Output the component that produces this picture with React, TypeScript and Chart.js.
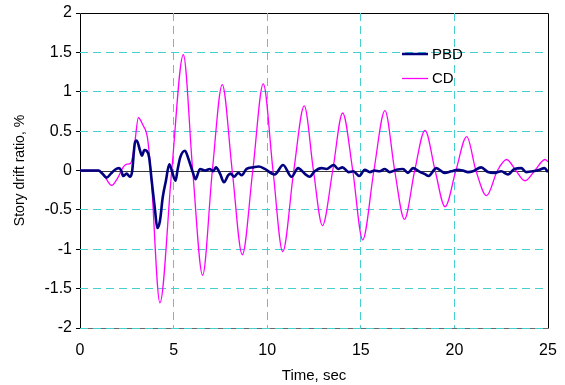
import { useEffect, useRef } from 'react';
import { Chart, registerables } from 'chart.js';

Chart.register(...registerables);

// ---- data ----
const seriesLabels = ['PBD', 'CD'];

const pbdTime = [0, 0.98, 1.2, 1.42, 1.65, 1.87, 2.08, 2.2, 2.31, 2.49, 2.67, 2.78, 2.94, 3.03, 3.21, 3.31, 3.44, 3.56, 3.69, 3.83, 4.01, 4.13, 4.27, 4.42, 4.59, 4.77, 4.9, 5.1, 5.22, 5.36, 5.61, 5.79, 6.05, 6.17, 6.41, 6.68, 6.94, 7.12, 7.26, 7.48, 7.69, 7.92, 8.05, 8.23, 8.46, 8.64, 8.9, 9.26, 9.55, 9.87, 10.4, 10.85, 11.3, 11.65, 12.0, 12.27, 12.54, 12.9, 13.17, 13.55, 13.79, 14.02, 14.35, 14.6, 14.92, 15.21, 15.48, 15.74, 16.01, 16.28, 16.54, 16.9, 17.25, 17.52, 17.79, 18.11, 18.45, 18.62, 19.03, 19.48, 19.83, 20.19, 20.45, 20.72, 20.99, 21.43, 21.79, 22.15, 22.5, 22.86, 23.21, 23.57, 23.84, 24.19, 24.55, 24.81, 25];
const pbdValue = [0, 0, -0.04, -0.09, -0.04, 0.01, 0.03, 0.0, -0.07, -0.04, -0.08, -0.02, 0.36, 0.38, 0.25, 0.19, 0.26, 0.25, 0.17, -0.13, -0.51, -0.73, -0.64, -0.34, -0.13, 0.08, 0.0, -0.13, 0.02, 0.17, 0.25, 0.15, -0.04, -0.11, 0.02, 0.0, 0.02, -0.01, 0.04, -0.04, -0.15, -0.06, -0.04, -0.08, -0.03, -0.06, 0.02, 0.04, 0.05, 0.02, -0.05, 0.07, -0.08, 0.03, -0.04, -0.08, -0.01, 0.03, 0.02, 0.07, 0.02, 0.04, -0.02, -0.01, -0.07, 0.01, -0.02, 0.0, -0.01, 0.02, -0.02, 0.01, 0.02, -0.03, 0.03, -0.01, -0.05, -0.07, 0.03, -0.03, -0.01, 0.01, 0.0, -0.02, -0.01, 0.04, -0.02, -0.03, -0.01, -0.05, 0.02, 0.03, -0.02, -0.01, 0.01, 0.03, -0.02];

const cdTime = [0, 1.0, 1.3, 1.69, 2.0, 2.3, 2.5, 2.7, 2.9, 3.12, 3.35, 3.6, 3.78, 4.27, 4.9, 5.52, 6.02, 6.55, 7.07, 7.6, 8.13, 8.67, 9.23, 9.79, 10.31, 10.83, 11.42, 11.98, 12.47, 12.95, 13.5, 14.03, 14.57, 15.1, 15.7, 16.29, 16.81, 17.33, 17.88, 18.43, 18.97, 19.5, 20.08, 20.66, 21.15, 21.72, 22.3, 22.79, 23.28, 23.77, 24.3, 24.84, 25];
const cdValue = [0, 0, -0.07, -0.19, -0.1, 0.04, 0.08, 0.09, 0.3, 0.67, 0.58, 0.42, 0, -1.68, 0, 1.47, 0, -1.33, 0, 1.09, 0, -1.07, 0, 1.1, 0, -1.03, 0, 0.82, 0, -0.7, 0, 0.73, 0, -0.88, 0, 0.76, 0, -0.62, 0, 0.51, 0, -0.46, 0, 0.43, 0, -0.32, 0, 0.14, 0, -0.13, 0, 0.14, 0.11];

const xTickValues = [0, 5, 10, 15, 20, 25];
const yTickValues = [-2, -1.5, -1, -0.5, 0, 0.5, 1, 1.5, 2];

const FONT = "'Liberation Sans', Arial, sans-serif";
const GRID_CYAN = '#45CFCF';

const framePlugin = {
  id: 'frame',
  beforeDraw(chart: any) {
    const { ctx, chartArea: a } = chart;
    ctx.save();
    ctx.lineWidth = 1;
    ctx.strokeStyle = '#000';
    ctx.beginPath();
    ctx.moveTo(Math.round(a.left) + 0.5, Math.round(a.bottom) + 0.5);
    ctx.lineTo(Math.round(a.left) + 0.5, Math.round(a.top) + 0.5);
    ctx.lineTo(Math.round(a.right) + 0.5, Math.round(a.top) + 0.5);
    ctx.lineTo(Math.round(a.right) + 0.5, Math.round(a.bottom) + 0.5);
    ctx.stroke();
    ctx.strokeStyle = '#6a6a6a';
    ctx.beginPath();
    ctx.moveTo(Math.round(a.left) + 0.5, Math.round(a.bottom) + 0.5);
    ctx.lineTo(Math.round(a.right) + 0.5, Math.round(a.bottom) + 0.5);
    ctx.stroke();
    ctx.restore();
  },
  beforeDatasetsDraw(chart: any) {
    const { ctx, chartArea: a, scales } = chart;
    const y0 = Math.round(scales.y.getPixelForValue(0)) + 0.5;
    ctx.save();
    ctx.strokeStyle = '#3a3a3a';
    ctx.lineWidth = 1;
    ctx.beginPath();
    ctx.moveTo(a.left, y0);
    ctx.lineTo(a.right, y0);
    ctx.stroke();
    ctx.restore();
  },
  afterDraw(chart: any) {
    const { ctx } = chart;
    ctx.save();
    ctx.font = `15px ${FONT}`;
    ctx.textBaseline = 'middle';
    ctx.textAlign = 'left';
    chart.data.datasets.forEach((ds: any, i: number) => {
      const y = 54 + i * 24.5;
      ctx.strokeStyle = ds.borderColor;
      ctx.lineWidth = i === 0 ? 2.5 : 1.3;
      ctx.beginPath();
      ctx.moveTo(402, y);
      ctx.lineTo(428, y);
      ctx.stroke();
      ctx.fillStyle = '#000';
      ctx.fillText(ds.label, 432, y + 0.5);
    });
    ctx.restore();
  },
};

export default function App() {
  const ref = useRef<HTMLCanvasElement>(null);
  useEffect(() => {
    document.body.style.margin = '0';
    const canvas = ref.current;
    if (!canvas) return;
    const chart = new Chart(canvas, {
      type: 'line',
      data: {
        datasets: [
          {
            label: seriesLabels[0],
            data: pbdTime.map((t, i) => ({ x: t, y: pbdValue[i] })),
            borderColor: '#000080',
            borderWidth: 2.6,
            pointRadius: 0,
            cubicInterpolationMode: 'monotone',
            fill: false,
          },
          {
            label: seriesLabels[1],
            data: cdTime.map((t, i) => ({ x: t, y: cdValue[i] })),
            borderColor: '#FF00FF',
            borderWidth: 1.3,
            pointRadius: 0,
            cubicInterpolationMode: 'monotone',
            fill: false,
          },
        ],
      },
      options: {
        responsive: false,
        animation: false,
        events: [],
        layout: { padding: { top: 13, right: 17, left: 0, bottom: 0 } },
        plugins: {
          legend: { display: false },
          tooltip: { enabled: false },
        },
        scales: {
          x: {
            type: 'linear',
            min: 0,
            max: 25,
            afterBuildTicks: (s: any) => {
              s.ticks = xTickValues.map((v) => ({ value: v }));
            },
            afterFit: (s: any) => {
              s.height = 57;
              s.paddingLeft = 0;
              s.paddingRight = 0;
            },
            grid: {
              drawTicks: false,
              color: (c: any) =>
                c.tick && (c.tick.value === 0 || c.tick.value === 25) ? 'rgba(0,0,0,0)' : GRID_CYAN,
              lineWidth: 1,
            },
            border: { display: false, dash: [8, 5] },
            ticks: {
              padding: 13,
              color: '#000',
              font: { family: FONT, size: 16 },
              maxRotation: 0,
              callback: (v: any) => String(v),
            },
            title: {
              display: true,
              text: 'Time, sec',
              color: '#000',
              font: { family: FONT, size: 15 },
              padding: { top: 0, bottom: 0 },
            },
          },
          y: {
            type: 'linear',
            min: -2,
            max: 2,
            afterBuildTicks: (s: any) => {
              s.ticks = yTickValues.map((v) => ({ value: v }));
            },
            afterFit: (s: any) => {
              s.width = 80;
              s.paddingTop = 0;
              s.paddingBottom = 0;
            },
            grid: {
              drawTicks: true,
              tickLength: 4,
              tickColor: '#000',
              color: (c: any) =>
                c.tick && (c.tick.value === 0 || c.tick.value === 2) ? 'rgba(0,0,0,0)' : GRID_CYAN,
              lineWidth: 1,
            },
            border: { display: false, dash: [8, 5] },
            ticks: {
              padding: 4,
              color: '#000',
              font: { family: FONT, size: 16 },
              callback: (v: any) => String(v),
            },
            title: {
              display: true,
              text: 'Story drift ratio, %',
              color: '#000',
              font: { family: FONT, size: 14 },
              padding: { top: 12, bottom: 0 },
            },
          },
        },
      },
      plugins: [framePlugin],
    } as any);
    return () => chart.destroy();
  }, []);
  return (
    <div style={{ position: 'absolute', left: 0, top: 0, width: 565, height: 385 }}>
      <canvas ref={ref} width={565} height={385} style={{ display: 'block', width: 565, height: 385 }} />
    </div>
  );
}
